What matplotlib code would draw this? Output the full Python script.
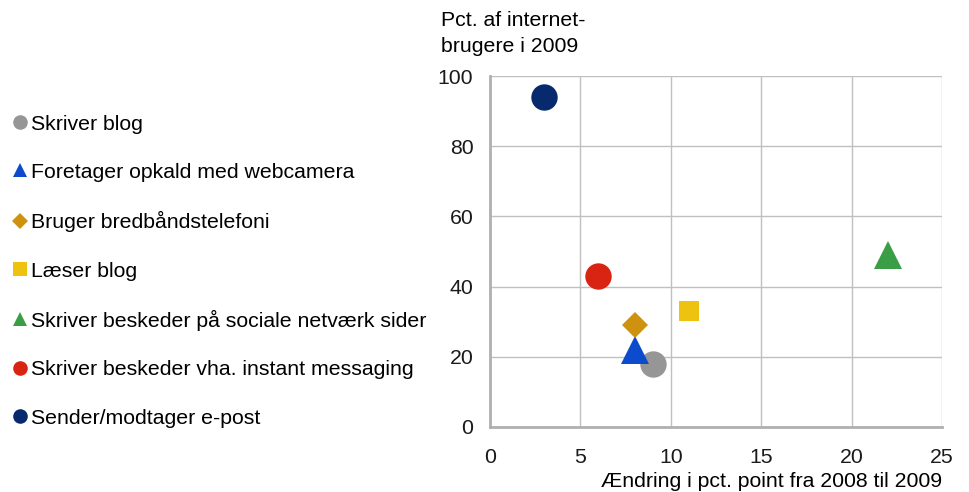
import matplotlib.pyplot as plt
from matplotlib.lines import Line2D

plt.rcParams['font.family'] = ['Liberation Sans', 'DejaVu Sans']

# data
labels = ['Skriver blog', 'Foretager opkald med webcamera', 'Bruger bredbåndstelefoni',
          'Læser blog', 'Skriver beskeder på sociale netværk sider',
          'Skriver beskeder vha. instant messaging', 'Sender/modtager e-post']
aendring = [9, 8, 8, 11, 22, 6, 3]
pct_2009 = [18, 22, 29, 33, 49, 43, 94]
markers = ['o', '^', 'D', 's', '^', 'o', 'o']
colors = ['#969696', '#0b4bcc', '#cf9210', '#eec30f', '#3a9e46', '#d92413', '#072a6e']
sizes = [19, 19.5, 13.5, 15, 19.5, 19, 19]
leg_sizes = [10.5, 10.5, 8, 9.5, 10.5, 10.5, 10.5]

fs = 15.3

fig = plt.figure(figsize=(9.69, 4.92), dpi=100)
ax = fig.add_axes([490/969, 1-427/492, 452/969, 351/492])

for x, y, m, c, s in zip(aendring, pct_2009, markers, colors, sizes):
    ax.plot(x, y, marker=m, color=c, markersize=s, linestyle='none',
            markeredgewidth=0, clip_on=False, zorder=3)

ax.set_xlim(0, 25)
ax.set_ylim(0, 100)
ax.set_xticks(range(0, 26, 5))
ax.set_yticks(range(0, 101, 20))
ax.grid(True, color='#c0c0c0', linewidth=1)
ax.set_axisbelow(True)
for side in ['top', 'right']:
    ax.spines[side].set_visible(False)
for side in ['left', 'bottom']:
    ax.spines[side].set_color('#b0b0b0')
    ax.spines[side].set_linewidth(2)
ax.tick_params(length=0, labelsize=fs, colors='#1a1a1a')
ax.tick_params(axis='y', pad=12)
ax.tick_params(axis='x', pad=15)

fig.text(441/969, 1-11/492, 'Pct. af internet-\nbrugere i 2009', fontsize=fs,
         va='top', ha='left', linespacing=1.45)
fig.text(942/969, 1-487/492, 'Ændring i pct. point fra 2008 til 2009', fontsize=fs,
         va='baseline', ha='right')

handles = [Line2D([], [], marker=m, color=c, markersize=s, linestyle='none',
                  markeredgewidth=0)
           for m, c, s in zip(markers, colors, leg_sizes)]
fig.legend(handles, labels, loc='upper left', bbox_to_anchor=(0.5/969, 1-106/492),
           frameon=False, fontsize=fs, labelspacing=1.38, handletextpad=0.05,
           handlelength=1.0, borderaxespad=0)

fig.savefig('out.png', dpi=100)
